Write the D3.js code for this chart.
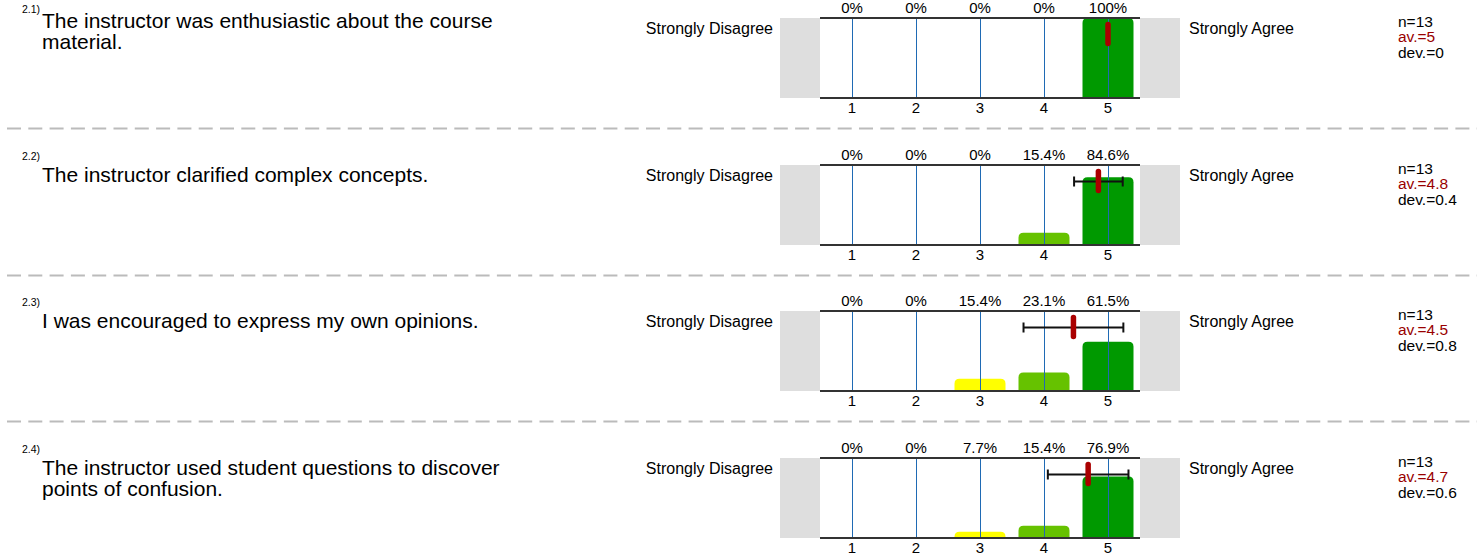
<!DOCTYPE html>
<html>
<head>
<meta charset="utf-8">
<script src="https://cdn.jsdelivr.net/npm/d3@7"></script>
<style>
  html, body { margin: 0; padding: 0; background: #fff; }
  svg { display: block; font-family: "Liberation Sans", Arial, Helvetica, sans-serif; }
</style>
</head>
<body>
<svg id="chart" width="1477" height="555"></svg>
<script>
// ---- data ----
const questionIds = ["2.1)", "2.2)", "2.3)", "2.4)"];
const questionLines = [
  ["The instructor was enthusiastic about the course", "material."],
  ["The instructor clarified complex concepts."],
  ["I was encouraged to express my own opinions."],
  ["The instructor used student questions to discover", "points of confusion."]
];
const scaleValues = [1, 2, 3, 4, 5];
const scaleLabels = ["1", "2", "3", "4", "5"];
const percents = [
  [0, 0, 0, 0, 100],
  [0, 0, 0, 15.4, 84.6],
  [0, 0, 15.4, 23.1, 61.5],
  [0, 0, 7.7, 15.4, 76.9]
];
const counts = [13, 13, 13, 13];
const means = [5, 4.85, 4.46, 4.69];
const devs = [0, 0.38, 0.78, 0.63];
const avLabels = ["5", "4.8", "4.5", "4.7"];
const devLabels = ["0", "0.4", "0.8", "0.6"];
const leftPole = "Strongly Disagree";
const rightPole = "Strongly Agree";
const barColors = ["#cc0000", "#ff9900", "#ffff00", "#66c200", "#009900"];

// ---- layout ----
const svg = d3.select("#chart");
const rowTop = d3.scaleLinear().domain([0, 3]).range([18, 457.5]);
const plotH = 80;
const x = d3.scaleLinear().domain([0.5, 5.5]).range([820, 1140]);
const y = d3.scaleLinear().domain([0, 100]).range([plotH, 0]);
const barW = 51;
const radius = 5;
const crisp = v => Math.round(v) + 0.5;

function topRoundedBar(x0, y0, w, h, r) {
  if (h <= 0) return "";
  r = Math.min(r, h, w / 2);
  return `M${x0},${y0 + h}V${y0 + r}Q${x0},${y0} ${x0 + r},${y0}H${x0 + w - r}Q${x0 + w},${y0} ${x0 + w},${y0 + r}V${y0 + h}Z`;
}

questionIds.forEach((qid, i) => {
  const t = Math.round(rowTop(i));
  const g = svg.append("g").attr("transform", `translate(0,${t})`);

  // question number & text
  g.append("text").attr("x", 22).attr("y", -5).attr("font-size", 10.5).attr("fill", "#000").text(qid);
  const qBase = i === 0 ? 10 : 17;
  const qt = g.append("text").attr("font-size", 21).attr("fill", "#000");
  questionLines[i].forEach((ln, k) => {
    qt.append("tspan").attr("x", 42).attr("y", qBase + k * 21).text(ln);
  });

  // pole labels
  g.append("text").attr("x", 773).attr("y", 16).attr("text-anchor", "end").attr("font-size", 16).text(leftPole);
  g.append("text").attr("x", 1189).attr("y", 16).attr("font-size", 16).text(rightPole);

  // gray side blocks
  g.append("rect").attr("x", x(0.5) - 40).attr("y", 0).attr("width", 40).attr("height", plotH).attr("fill", "#dedede");
  g.append("rect").attr("x", x(5.5)).attr("y", 0).attr("width", 40).attr("height", plotH).attr("fill", "#dedede");

  // bars
  g.selectAll("path.bar").data(scaleValues).enter().append("path")
    .attr("class", "bar")
    .attr("d", (v, k) => topRoundedBar(x(v) - barW / 2, y(percents[i][k]), barW, plotH - y(percents[i][k]), radius))
    .attr("fill", (v, k) => barColors[k]);

  // blue grid lines
  g.selectAll("line.grid").data(scaleValues).enter().append("line")
    .attr("x1", v => crisp(x(v))).attr("x2", v => crisp(x(v)))
    .attr("y1", 0).attr("y2", plotH)
    .attr("stroke", "#1f6ab4").attr("stroke-width", 1);

  // frame lines top and bottom
  g.append("line").attr("x1", x(0.5)).attr("x2", x(5.5)).attr("y1", 0).attr("y2", 0)
    .attr("stroke", "#333").attr("stroke-width", 2);
  g.append("line").attr("x1", x(0.5)).attr("x2", x(5.5)).attr("y1", plotH).attr("y2", plotH)
    .attr("stroke", "#333").attr("stroke-width", 2);

  // percentage labels
  g.selectAll("text.pct").data(scaleValues).enter().append("text")
    .attr("x", v => x(v)).attr("y", -5).attr("text-anchor", "middle").attr("font-size", 15)
    .text((v, k) => percents[i][k] + "%");

  // axis tick labels
  g.selectAll("text.tick").data(scaleValues).enter().append("text")
    .attr("x", v => x(v)).attr("y", plotH + 15).attr("text-anchor", "middle").attr("font-size", 15)
    .text((v, k) => scaleLabels[k]);

  // error bar
  const ey = 16.5;
  if (devs[i] > 0) {
    const lo = x(means[i] - devs[i]), hi = x(means[i] + devs[i]);
    g.append("line").attr("x1", lo).attr("x2", hi).attr("y1", ey).attr("y2", ey).attr("stroke", "#111").attr("stroke-width", 2);
    [lo, hi].forEach(xx => g.append("line").attr("x1", xx).attr("x2", xx).attr("y1", ey - 5).attr("y2", ey + 5).attr("stroke", "#111").attr("stroke-width", 2));
  }
  // mean marker
  g.append("line").attr("x1", x(means[i])).attr("x2", x(means[i])).attr("y1", 6.5).attr("y2", 25.5)
    .attr("stroke", "#aa0000").attr("stroke-width", 5.5).attr("stroke-linecap", "round");

  // stats
  const st = g.append("text").attr("font-size", 15.5);
  st.append("tspan").attr("x", 1398).attr("y", 8.5).attr("fill", "#000").text("n=" + counts[i]);
  st.append("tspan").attr("x", 1398).attr("y", 24).attr("fill", "#990000").text("av.=" + avLabels[i]);
  st.append("tspan").attr("x", 1398).attr("y", 39.5).attr("fill", "#000").text("dev.=" + devLabels[i]);

  // dashed separator
  if (i < questionIds.length - 1) {
    g.append("line").attr("x1", 7).attr("x2", 1477).attr("y1", 110.5).attr("y2", 110.5)
      .attr("stroke", "#bbb").attr("stroke-width", 2).attr("stroke-dasharray", "14,7.3");
  }
});
</script>
</body>
</html>
